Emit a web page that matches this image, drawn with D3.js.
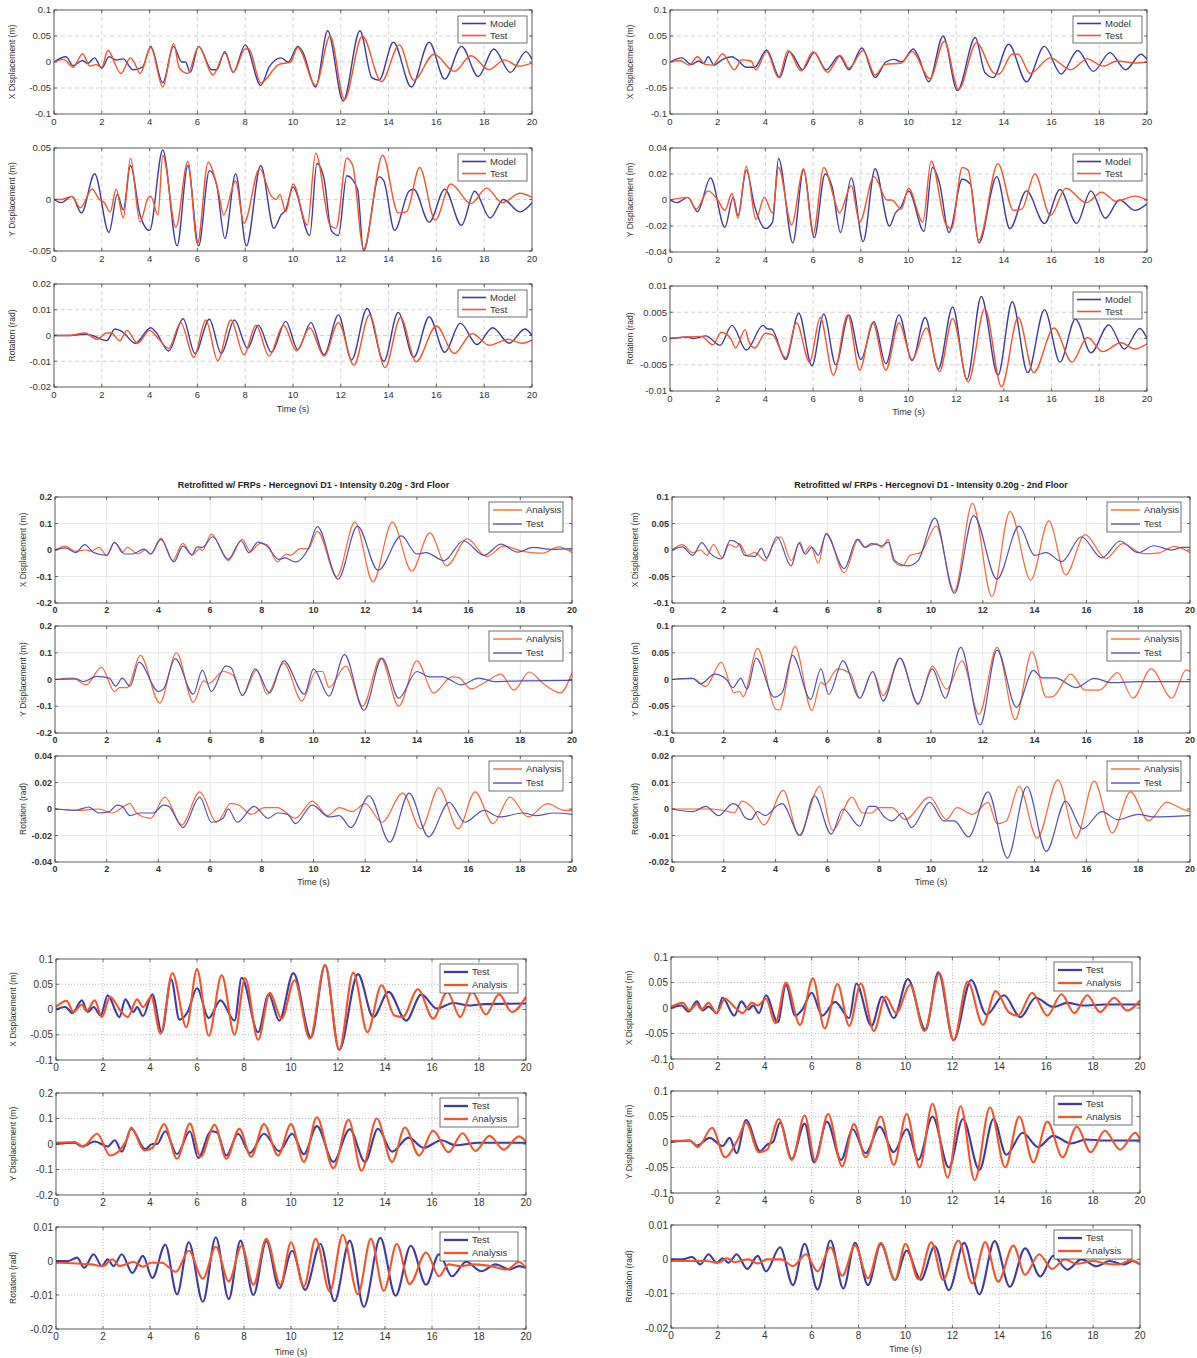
<!DOCTYPE html>
<html>
<head>
<meta charset="utf-8">
<script src="https://cdn.jsdelivr.net/npm/d3@7/dist/d3.min.js"></script>
<style>
  body { margin: 0; background: #fff; }
  svg { font-family: "Liberation Sans", Arial, sans-serif; }
</style>
</head>
<body>
<div id="chart"></div>
<script>
// ---------- data (time in s, value) ----------
const timeTicks = [0, 2, 4, 6, 8, 10, 12, 14, 16, 18, 20];

// top-left panel
const aXModel = [[0,0],[0.5,0.01],[0.8,-0.007],[1.2,0.003],[1.4,-0.003],[1.7,0.008],[2.0,-0.012],[2.3,0.01],[2.6,0.004],[2.9,0.006],[3.3,-0.015],[3.7,-0.01],[4.05,0.03],[4.55,-0.04],[5.0,0.03],[5.35,0],[5.5,0],[5.7,-0.02],[6.05,0.03],[6.6,-0.015],[6.8,-0.015],[7.15,0.02],[7.5,-0.02],[8.0,0.033],[8.65,-0.045],[9.0,-0.01],[9.5,0.008],[9.8,0],[10.2,0.03],[10.4,0.02],[10.95,-0.048],[11.45,0.06],[12.1,-0.075],[12.8,0.06],[13.3,-0.03],[13.6,-0.035],[14.2,0.038],[14.95,-0.048],[15.7,0.038],[16.35,-0.033],[17.05,0.03],[17.75,-0.028],[18.4,0.025],[19.1,-0.02],[19.75,0.02],[20,0.005]];
const aXTest = [[0,0],[0.4,0.005],[0.8,-0.01],[1.2,0.016],[1.5,-0.008],[1.75,-0.005],[2.0,-0.01],[2.25,0.022],[2.8,-0.022],[3.2,0.008],[3.35,0],[3.6,-0.022],[4.05,0.028],[4.55,-0.048],[5.0,0.035],[5.25,-0.012],[5.6,-0.022],[6.05,0.03],[6.65,-0.025],[7.15,0.017],[7.5,-0.02],[8.0,0.025],[8.15,0.025],[8.65,-0.04],[9.4,-0.005],[9.9,0],[10.2,0.028],[10.95,-0.045],[11.55,0.05],[12.15,-0.072],[12.9,0.05],[13.7,-0.038],[14.45,0.033],[15.05,-0.035],[15.9,0.015],[16.75,-0.018],[17.45,0.012],[18.2,-0.015],[18.85,0.004],[19.45,-0.008],[20,-0.002]];
const aYModel = [[0,0],[0.3,-0.003],[0.75,0.003],[1.15,-0.013],[1.7,0.025],[2.3,-0.032],[2.65,0.005],[2.9,-0.01],[3.2,0.033],[3.6,-0.015],[4.0,-0.03],[4.55,0.048],[5.15,-0.045],[5.6,0.033],[6.05,-0.045],[6.5,0.028],[6.8,0.015],[7.15,-0.038],[7.6,0.025],[8.05,-0.045],[8.65,0.033],[9.2,-0.028],[9.5,-0.015],[9.7,-0.01],[10.0,0.012],[10.7,-0.035],[11.0,0.035],[11.3,0.02],[11.6,-0.03],[11.9,-0.035],[12.25,0.023],[12.7,0.01],[12.95,-0.05],[13.6,0.022],[13.8,0.018],[14.25,-0.03],[14.85,0.008],[15.05,0.01],[15.7,-0.022],[16.35,0.01],[17.05,-0.025],[17.6,0.008],[18.25,-0.018],[18.8,0],[19.5,-0.012],[20,-0.003]];
const aYTest = [[0,0],[0.3,0],[0.75,0.003],[1.1,-0.008],[1.6,0.01],[1.9,0],[2.1,-0.003],[2.35,-0.012],[2.6,0.01],[2.9,-0.018],[3.2,0.04],[3.6,-0.022],[3.95,0.002],[4.05,0.003],[4.35,-0.015],[4.55,0.043],[5.1,-0.027],[5.6,0.037],[6.0,-0.043],[6.45,0.036],[6.9,0.005],[7.1,-0.015],[7.6,0.018],[7.95,-0.023],[8.6,0.03],[9.1,0.003],[9.3,0],[9.45,0.005],[9.7,-0.012],[10.0,0.015],[10.6,-0.025],[10.95,0.045],[11.55,-0.025],[11.8,-0.028],[12.25,0.04],[12.5,0.033],[12.95,-0.048],[13.75,0.043],[14.4,-0.013],[14.75,-0.012],[15.3,0.031],[15.95,-0.02],[16.6,0.015],[17.45,-0.004],[18.1,0.011],[18.75,-0.003],[19.5,0.006],[20,0.002]];
const aRModel = [[0,0],[0.7,0],[1.3,0.0005],[1.6,0],[2.2,-0.002],[2.55,0.0025],[2.85,0.0015],[3.4,-0.003],[4.05,0.003],[4.25,0.0015],[4.8,-0.006],[5.4,0.0065],[5.9,-0.007],[6.5,0.0063],[7.0,-0.007],[7.55,0.006],[8.1,-0.005],[8.55,0.004],[9.1,-0.0065],[9.7,0.0055],[10.2,-0.0055],[10.75,0.005],[11.3,-0.0075],[11.9,0.008],[12.45,-0.0095],[13.1,0.0105],[13.8,-0.01],[14.4,0.009],[15.05,-0.0085],[15.7,0.0073],[16.35,-0.0065],[17.0,0.0048],[17.7,-0.0035],[18.35,0.003],[19.05,-0.003],[19.7,0.0025],[20,0]];
const aRTest = [[0,0],[0.6,0],[1.3,0.001],[1.8,-0.0015],[2.2,0.001],[2.4,0.001],[2.75,-0.002],[3.05,0.002],[3.5,-0.003],[4.0,0.002],[4.3,-0.0005],[4.8,-0.005],[5.3,0.005],[5.85,-0.0085],[6.35,0.006],[6.85,-0.0098],[7.4,0.006],[7.95,-0.0075],[8.45,0.004],[9.0,-0.008],[9.6,0.004],[10.15,-0.006],[10.7,0.003],[11.3,-0.008],[11.9,0.005],[12.55,-0.0115],[13.2,0.008],[13.85,-0.0125],[14.5,0.007],[15.15,-0.0102],[16.0,0.0037],[16.75,-0.007],[17.5,0.0008],[18.2,-0.0038],[19.0,-0.0015],[19.6,-0.003],[20,-0.0018]];

// top-right panel
const bXModel = [[0,0],[0.5,0.008],[0.9,-0.005],[1.2,0.002],[1.4,-0.003],[1.6,0.01],[1.85,-0.006],[2.2,0.005],[2.6,0.01],[2.8,0.005],[3.2,-0.01],[3.55,-0.01],[4.05,0.023],[4.6,-0.03],[5.0,0.02],[5.2,0.01],[5.55,-0.015],[6.05,0.018],[6.55,-0.015],[7.1,0.012],[7.5,-0.015],[8.05,0.027],[8.6,-0.03],[9.05,0],[9.4,0.005],[9.7,0],[10.2,0.025],[10.4,0.012],[10.85,-0.038],[11.45,0.05],[12.05,-0.055],[12.8,0.047],[13.2,-0.02],[13.55,-0.03],[14.2,0.034],[14.95,-0.038],[15.7,0.03],[16.4,-0.023],[17.1,0.022],[17.75,-0.018],[18.45,0.018],[19.1,-0.015],[19.75,0.015],[20,0.005]];
const bXTest = [[0,0],[0.4,0.003],[0.8,-0.006],[1.15,0.01],[1.45,-0.004],[1.8,-0.006],[2.2,0.016],[2.7,-0.015],[3.0,0.004],[3.4,0.002],[3.6,-0.015],[4.05,0.02],[4.55,-0.03],[4.95,0.022],[5.5,-0.017],[6.0,0.02],[6.6,-0.02],[7.15,0.012],[7.5,-0.012],[8.1,0.022],[8.6,-0.025],[9.0,-0.005],[9.7,-0.002],[10.15,0.02],[10.9,-0.032],[11.5,0.04],[12.1,-0.053],[12.85,0.037],[13.6,-0.022],[13.8,-0.023],[14.35,0.015],[14.6,0.015],[15.1,-0.022],[15.95,0.008],[16.8,-0.015],[17.5,0.006],[18.15,-0.008],[18.75,0.002],[19.5,-0.002],[20,0]];
const bYModel = [[0,0],[0.3,-0.002],[0.75,0.002],[1.15,-0.009],[1.7,0.017],[2.3,-0.021],[2.65,0.002],[2.85,-0.012],[3.2,0.023],[3.55,-0.005],[4.0,-0.022],[4.3,-0.017],[4.55,0.032],[5.15,-0.033],[5.6,0.023],[6.05,-0.029],[6.5,0.02],[6.8,0.01],[7.15,-0.025],[7.6,0.017],[8.1,-0.032],[8.6,0.024],[9.2,-0.02],[9.45,-0.01],[9.7,-0.005],[10.0,0.007],[10.65,-0.024],[11.0,0.025],[11.3,0.013],[11.7,-0.025],[12.25,0.016],[12.6,0.012],[12.95,-0.033],[13.7,0.018],[14.25,-0.022],[14.95,0.007],[15.7,-0.018],[16.35,0.008],[17.05,-0.018],[17.65,0.007],[18.25,-0.014],[18.85,0],[19.5,-0.008],[20,-0.003]];
const bYTest = [[0,0],[0.75,0.002],[1.1,-0.007],[1.6,0.007],[2.0,0],[2.3,-0.008],[2.6,0.005],[2.85,-0.014],[3.2,0.026],[3.6,-0.015],[3.95,0.002],[4.3,-0.01],[4.55,0.025],[5.1,-0.019],[5.6,0.024],[6.0,-0.026],[6.45,0.025],[6.9,0],[7.1,-0.01],[7.6,0.011],[7.95,-0.017],[8.55,0.018],[9.1,0],[9.3,0],[9.7,-0.007],[10.0,0.009],[10.6,-0.017],[10.95,0.03],[11.55,-0.018],[11.8,-0.022],[12.25,0.025],[12.5,0.023],[12.95,-0.031],[13.75,0.028],[14.4,-0.008],[14.75,-0.007],[15.3,0.02],[15.95,-0.012],[16.6,0.009],[17.45,-0.002],[18.1,0.006],[18.7,-0.001],[19.5,0.003],[20,0]];
const bRModel = [[0,0],[0.7,0.0003],[1.0,0],[1.5,0.0005],[2.1,-0.0013],[2.6,0.0025],[3.2,-0.0022],[3.9,0.0025],[4.1,0.0018],[4.25,0.0018],[4.85,-0.004],[5.4,0.0048],[5.95,-0.0052],[6.45,0.0047],[6.95,-0.005],[7.5,0.0045],[8.0,-0.004],[8.55,0.0032],[9.05,-0.0048],[9.6,0.0045],[10.15,-0.0042],[10.7,0.004],[11.25,-0.0058],[11.85,0.006],[12.45,-0.0078],[13.05,0.008],[13.75,-0.007],[14.35,0.007],[15.0,-0.0065],[15.7,0.0055],[16.35,-0.0045],[17.0,0.0037],[17.65,-0.0027],[18.4,0.0026],[19.05,-0.002],[19.7,0.0019],[20,0]];
const bRTest = [[0,0],[1.3,0.0004],[1.8,-0.0012],[2.15,0.0012],[2.55,0],[2.75,-0.0018],[3.15,0.0017],[3.3,-0.0005],[3.55,-0.0018],[4.0,0.001],[4.3,0.0007],[4.85,-0.0037],[5.3,0.003],[5.85,-0.0045],[6.3,0.004],[6.85,-0.007],[7.45,0.0045],[7.95,-0.006],[8.5,0.003],[9.05,-0.006],[9.6,0.003],[10.15,-0.004],[10.75,0.002],[11.3,-0.0063],[11.85,0.0038],[12.5,-0.0083],[13.2,0.0057],[13.9,-0.0092],[14.6,0.004],[15.25,-0.0065],[16.1,0.002],[16.85,-0.0045],[17.5,0.0002],[18.15,-0.0025],[18.9,-0.0008],[19.5,-0.002],[20,-0.001]];

// middle-left panel (3rd floor)
const cXAnalysis = [[0,0],[0.4,0.015],[0.8,-0.005],[1.2,0],[1.4,-0.005],[1.7,0.01],[2.0,-0.02],[2.3,0.03],[2.6,-0.01],[2.8,0.01],[3.2,-0.015],[3.5,0],[3.7,-0.015],[4.1,0.045],[4.55,-0.04],[4.95,0.025],[5.3,-0.02],[5.6,0.005],[5.7,-0.002],[6.05,0.06],[6.7,-0.04],[7.25,0.04],[7.55,-0.005],[7.95,0.025],[8.2,0.02],[8.6,-0.045],[8.95,-0.015],[9.1,-0.02],[9.5,0.005],[9.8,0.005],[10.15,0.07],[10.9,-0.1],[11.6,0.105],[12.3,-0.12],[13.05,0.105],[13.8,-0.08],[14.5,0.065],[15.15,-0.06],[15.95,0.042],[16.7,-0.025],[17.35,0.015],[18.1,-0.005],[18.85,-0.012],[19.5,0.012],[20,-0.01]];
const cXTest = [[0,0],[0.4,0.008],[0.8,-0.01],[1.15,0.02],[1.5,-0.01],[2.0,-0.02],[2.3,0.028],[2.7,-0.015],[3.0,-0.015],[3.45,0.003],[3.7,-0.015],[4.1,0.04],[4.6,-0.045],[4.95,0.015],[5.3,-0.018],[5.5,0.012],[5.7,0.01],[6.1,0.05],[6.7,-0.035],[7.2,0.035],[7.5,-0.01],[7.85,0.03],[8.2,0.015],[8.65,-0.035],[8.9,-0.03],[9.3,-0.045],[9.8,0.005],[10.15,0.088],[10.95,-0.11],[11.7,0.09],[12.5,-0.077],[13.4,0.053],[14.0,-0.015],[14.35,-0.01],[15.05,-0.04],[15.8,0.035],[16.6,-0.02],[17.25,0.022],[17.9,-0.008],[18.5,0.01],[19.2,0.002],[20,0.005]];
const cYAnalysis = [[0,0],[0.7,0.005],[1.2,-0.02],[1.8,0.045],[2.3,-0.045],[2.5,-0.03],[2.8,-0.03],[3.3,0.09],[4.05,-0.088],[4.7,0.1],[5.35,-0.085],[5.75,-0.005],[5.95,-0.015],[6.5,0.03],[6.9,0.015],[7.25,-0.06],[7.8,0.035],[8.2,-0.055],[8.85,0.06],[9.55,-0.08],[10.1,0.03],[10.35,0.03],[10.6,-0.03],[11.25,0.05],[11.9,-0.1],[12.6,0.08],[13.3,-0.1],[14.0,0.07],[14.65,-0.05],[15.35,0.01],[15.6,0.008],[16.1,-0.035],[16.65,-0.01],[17.25,0.02],[17.75,-0.04],[18.35,0.028],[18.85,-0.012],[19.55,-0.05],[20,0.025]];
const cYTest = [[0,0],[0.8,0.002],[1.1,-0.008],[1.6,0.012],[2.1,0.005],[2.35,-0.025],[2.6,0.005],[2.9,-0.025],[3.25,0.065],[4.0,-0.045],[4.2,-0.035],[4.65,0.078],[5.35,-0.055],[5.7,0.035],[6.05,-0.045],[6.6,0.05],[6.8,0.045],[7.25,-0.06],[7.75,0.04],[8.3,-0.05],[8.85,0.07],[9.65,-0.055],[10.0,0.04],[10.6,-0.062],[11.2,0.093],[11.95,-0.115],[12.65,0.08],[13.3,-0.07],[14.0,0.03],[14.5,0.01],[15.0,0.01],[15.7,-0.02],[16.4,0.005],[17.0,-0.008],[18.0,-0.005],[20,-0.003]];
const cRAnalysis = [[0,0],[1.0,-0.001],[1.7,0],[2.2,-0.003],[2.9,0.004],[3.15,-0.003],[3.7,-0.007],[4.25,0.009],[4.9,-0.012],[5.6,0.013],[6.25,-0.01],[6.8,0.004],[7.1,0.003],[7.6,-0.004],[8.1,0.001],[8.6,0.001],[9.3,-0.007],[9.95,0.006],[10.55,-0.005],[11.0,0.001],[11.5,-0.002],[12.0,0.004],[12.65,-0.01],[13.45,0.012],[14.15,-0.015],[14.85,0.016],[15.6,-0.015],[16.25,0.013],[16.95,-0.011],[17.6,0.009],[18.3,-0.006],[19.05,0.004],[19.7,-0.001],[20,-0.001]];
const cRTest = [[0,0],[0.8,-0.001],[1.3,0.0015],[1.7,-0.003],[2.1,-0.002],[2.4,0.003],[2.6,0.002],[2.9,-0.005],[3.3,-0.003],[3.8,-0.003],[4.2,0.003],[4.4,0.002],[4.95,-0.014],[5.6,0.009],[6.05,-0.01],[6.5,-0.007],[6.7,0],[7.05,-0.01],[7.7,0.002],[8.25,-0.007],[8.6,-0.003],[9.0,-0.004],[9.3,-0.011],[9.95,0.003],[10.6,-0.006],[11.0,-0.005],[11.45,-0.014],[12.15,0.01],[12.95,-0.025],[13.7,0.012],[14.45,-0.021],[15.25,0.005],[15.85,-0.01],[16.6,-0.001],[17.2,-0.006],[18.1,-0.003],[18.6,-0.005],[19.3,-0.003],[20,-0.004]];

// middle-right panel (2nd floor)
const dXAnalysis = [[0,0],[0.4,0.01],[0.8,-0.005],[1.1,0],[1.35,-0.01],[1.6,0.01],[1.95,-0.015],[2.2,0.01],[2.5,0.005],[2.6,0.012],[2.9,-0.01],[3.2,-0.005],[3.6,-0.02],[3.9,0.01],[4.2,0.025],[4.6,-0.02],[4.95,0.015],[5.1,-0.005],[5.35,0.008],[5.65,-0.025],[5.95,0.032],[6.65,-0.043],[7.2,0.02],[7.45,0.005],[7.9,0.012],[8.1,0.005],[8.35,0.02],[8.55,-0.02],[8.9,-0.03],[9.2,-0.01],[9.6,-0.005],[10.2,0.045],[10.9,-0.078],[11.6,0.088],[12.35,-0.088],[13.05,0.073],[13.85,-0.057],[14.55,0.055],[15.2,-0.047],[15.95,0.029],[16.75,-0.016],[17.4,0.012],[18.2,-0.007],[18.75,-0.006],[19.4,0.007],[20,-0.005]];
const dXTest = [[0,0],[0.4,0.006],[0.8,-0.01],[1.15,0.014],[1.45,-0.005],[1.9,-0.017],[2.25,0.018],[2.6,0.01],[2.8,-0.01],[3.2,-0.012],[3.45,0.003],[3.65,-0.015],[4.05,0.025],[4.6,-0.03],[4.9,0.013],[5.15,-0.008],[5.4,0.005],[5.65,-0.01],[5.95,0.03],[6.65,-0.035],[7.15,0.02],[7.45,0.005],[7.7,0.012],[8.1,0.008],[8.35,0.015],[8.6,-0.02],[9.1,-0.03],[9.5,-0.02],[10.15,0.06],[10.9,-0.082],[11.65,0.065],[12.55,-0.055],[13.4,0.045],[14.0,-0.01],[14.45,-0.005],[15.05,-0.022],[15.8,0.025],[16.6,-0.015],[17.3,0.017],[18.0,-0.005],[18.6,0.008],[19.3,0],[19.7,0.005],[20,0.005]];
const dYAnalysis = [[0,0],[0.8,0.002],[1.3,-0.013],[1.9,0.032],[2.4,-0.025],[2.6,-0.022],[2.75,-0.032],[3.3,0.058],[4.0,-0.055],[4.15,-0.057],[4.75,0.062],[5.4,-0.058],[5.75,-0.005],[5.9,-0.01],[6.4,0.02],[6.9,0.01],[7.25,-0.035],[7.75,0.015],[8.15,-0.03],[8.8,0.04],[9.5,-0.047],[10.05,0.025],[10.6,-0.018],[11.2,0.035],[11.85,-0.065],[12.55,0.06],[13.25,-0.075],[13.9,0.052],[14.45,-0.033],[14.7,-0.032],[15.4,0.01],[15.95,-0.02],[16.5,-0.02],[17.2,0.013],[17.8,-0.035],[18.5,0.02],[19.3,-0.035],[19.85,0.018],[20,0.015]];
const dYTest = [[0,0],[0.8,0.002],[1.1,-0.008],[1.65,0.01],[2.1,0],[2.35,-0.015],[2.65,0.002],[2.9,-0.018],[3.25,0.04],[3.95,-0.033],[4.25,-0.025],[4.65,0.045],[5.35,-0.037],[5.75,0.02],[6.05,-0.028],[6.6,0.035],[7.25,-0.035],[7.75,0.015],[8.15,-0.04],[8.8,0.04],[9.5,-0.045],[10.05,0.02],[10.55,-0.035],[11.15,0.06],[11.9,-0.085],[12.55,0.055],[13.3,-0.052],[13.95,0.017],[14.3,0.003],[14.8,0.003],[15.6,-0.015],[16.3,0.002],[17.0,-0.006],[18.0,-0.004],[20,-0.004]];
const dRAnalysis = [[0,0],[1.5,0],[2.2,-0.001],[2.4,-0.0015],[2.7,0.003],[3.1,0.0005],[3.55,-0.006],[4.3,0.007],[4.9,-0.01],[5.7,0.0085],[6.2,-0.008],[6.95,0.0045],[7.35,-0.0015],[7.7,-0.0015],[8.0,0.0005],[8.5,0.0005],[9.0,-0.004],[9.95,0.0045],[10.6,-0.004],[11.0,0.0005],[11.6,-0.002],[12.2,0.0025],[12.55,-0.0055],[12.9,-0.0045],[13.4,0.0085],[14.1,-0.011],[14.9,0.011],[15.6,-0.011],[16.3,0.0105],[17.0,-0.009],[17.7,0.0065],[18.4,-0.0045],[19.1,0.0025],[19.7,0],[20,-0.001]];
const dRTest = [[0,0],[0.8,-0.001],[1.3,0.001],[1.8,-0.0025],[2.35,0.002],[2.6,0.0005],[2.8,-0.003],[3.05,-0.004],[3.3,-0.001],[3.6,-0.0025],[4.1,0.0015],[4.25,0.002],[4.95,-0.01],[5.5,0.005],[6.15,-0.0095],[6.6,0],[7.25,-0.0065],[7.6,0.001],[7.85,0.001],[8.2,-0.003],[8.5,-0.0045],[8.9,-0.0015],[9.25,-0.007],[9.95,0.0025],[10.5,-0.0045],[10.9,-0.0045],[11.45,-0.0105],[12.2,0.0065],[12.95,-0.0185],[13.7,0.0085],[14.45,-0.016],[15.2,0.003],[15.85,-0.0075],[16.6,-0.001],[17.2,-0.004],[18.0,-0.002],[18.6,-0.003],[20,-0.0025]];

// bottom-left panel
const eXTest = [[0,0],[0.4,0.005],[0.7,-0.007],[1.1,0.018],[1.35,-0.005],[1.6,0.005],[1.9,-0.012],[2.2,0.028],[2.7,-0.015],[2.95,0.02],[3.3,-0.005],[3.45,0.005],[3.7,-0.013],[4.1,0.03],[4.5,-0.045],[4.9,0.06],[5.25,-0.02],[5.6,-0.005],[6.0,0.042],[6.5,-0.017],[7.0,0.018],[7.6,-0.022],[7.9,0.063],[8.6,-0.045],[9.05,0.03],[9.5,-0.022],[10.1,0.072],[10.85,-0.055],[11.45,0.088],[12.05,-0.08],[12.85,0.07],[13.5,-0.015],[14.15,0.035],[14.9,-0.022],[15.55,0.03],[16.2,0.002],[16.9,0.013],[17.6,0.008],[18.0,0.01],[20,0.012]];
const eXAnalysis = [[0,0.005],[0.45,0.017],[0.75,-0.005],[1.1,0.01],[1.3,-0.003],[1.65,0.018],[1.95,-0.015],[2.3,0.025],[2.75,-0.003],[3.05,-0.015],[3.45,0.02],[3.7,0.005],[4.05,0.025],[4.45,-0.048],[4.95,0.072],[5.55,-0.035],[6.0,0.08],[6.5,-0.052],[7.05,0.068],[7.6,-0.05],[8.05,0.062],[8.6,-0.06],[9.1,0.033],[9.6,-0.018],[10.15,0.058],[10.8,-0.058],[11.45,0.088],[12.05,-0.08],[12.65,0.073],[13.25,-0.045],[13.85,0.048],[14.4,-0.012],[14.75,-0.015],[15.4,0.04],[16.05,-0.018],[16.65,0.035],[17.2,-0.015],[17.7,0.035],[18.3,-0.01],[18.85,0.03],[19.4,-0.005],[20,0.025]];
const eYTest = [[0,0],[0.8,0.005],[1.1,-0.01],[1.65,0.01],[2.2,-0.01],[2.5,0.015],[2.8,-0.03],[3.2,0.06],[3.8,-0.02],[4.1,0],[4.3,0],[4.65,0.05],[5.15,-0.04],[5.7,0.05],[6.05,-0.055],[6.6,0.05],[6.85,0.045],[7.25,-0.045],[7.75,0.04],[8.25,-0.035],[8.85,0.04],[9.5,-0.028],[10.05,0.04],[10.55,-0.04],[11.1,0.07],[11.8,-0.07],[12.5,0.058],[13.15,-0.07],[13.7,0.06],[14.3,-0.03],[15.0,0.025],[15.65,-0.015],[16.4,0.015],[17.0,-0.005],[18.0,0.005],[20,0.005]];
const eYAnalysis = [[0,0.005],[0.8,0.008],[1.15,-0.01],[1.75,0.04],[2.3,-0.045],[3.0,0.015],[3.2,0.065],[3.75,-0.025],[4.1,-0.015],[4.6,0.078],[5.15,-0.058],[5.7,0.08],[6.15,-0.05],[6.75,0.075],[7.25,-0.058],[7.8,0.06],[8.3,-0.05],[8.85,0.078],[9.45,-0.045],[10.0,0.078],[10.55,-0.07],[11.1,0.105],[11.8,-0.095],[12.45,0.095],[13.0,-0.105],[13.65,0.1],[14.3,-0.07],[14.85,0.065],[15.45,-0.045],[16.05,0.052],[16.7,-0.032],[17.3,0.042],[17.85,-0.027],[18.45,0.032],[19.05,-0.022],[19.7,0.03],[20,0.01]];
const eRTest = [[0,0],[0.5,0],[0.9,0.001],[1.2,-0.002],[1.6,0.002],[1.95,-0.0015],[2.2,0.0005],[2.45,-0.0015],[2.8,0.002],[3.25,-0.0035],[3.7,0.0015],[4.1,-0.005],[4.65,0.0048],[5.15,-0.0098],[5.65,0.0055],[6.25,-0.012],[6.8,0.007],[7.35,-0.0112],[7.85,0.006],[8.4,-0.01],[8.95,0.0058],[9.5,-0.008],[10.05,0.003],[10.6,-0.0085],[11.25,0.005],[11.85,-0.0118],[12.5,0.006],[13.1,-0.0135],[13.8,0.0068],[14.45,-0.0102],[15.1,0.0045],[15.75,-0.007],[16.3,0.002],[16.85,-0.0045],[17.45,-0.0002],[18.1,-0.003],[18.7,-0.001],[19.3,-0.0025],[19.7,-0.0015],[20,-0.002]];
const eRAnalysis = [[0,-0.0005],[1.5,-0.001],[2.0,-0.0015],[2.4,0.0005],[2.7,-0.0015],[3.3,-0.0003],[3.7,-0.0017],[4.05,-0.0005],[4.5,-0.0005],[5.1,-0.0032],[5.65,0.003],[6.25,-0.0052],[6.8,0.0042],[7.35,-0.006],[7.9,0.0045],[8.4,-0.007],[8.95,0.0065],[9.55,-0.007],[10.0,0.0055],[10.55,-0.0075],[11.05,0.0065],[11.65,-0.009],[12.2,0.0077],[12.85,-0.0098],[13.4,0.0065],[13.95,-0.0088],[14.5,0.005],[15.05,-0.0068],[15.75,0.0025],[16.3,-0.0045],[16.7,-0.001],[17.2,-0.0015],[17.8,-0.001],[18.5,-0.0015],[19.2,-0.0025],[19.7,-0.0003],[20,-0.002]];

// bottom-right panel
const fXTest = [[0,0],[0.45,0.005],[0.75,-0.007],[1.1,0.013],[1.35,-0.005],[1.6,0.003],[1.95,-0.01],[2.2,0.02],[2.7,-0.015],[3.0,0.013],[3.3,-0.003],[3.5,0.005],[3.75,-0.01],[4.05,0.025],[4.55,-0.028],[4.9,0.045],[5.3,-0.015],[5.6,-0.003],[6.0,0.03],[6.45,-0.015],[7.0,0.012],[7.6,-0.02],[7.9,0.048],[8.55,-0.035],[9.0,0.022],[9.5,-0.02],[10.1,0.057],[10.85,-0.043],[11.4,0.07],[12.05,-0.063],[12.8,0.055],[13.45,-0.013],[14.2,0.025],[14.9,-0.018],[15.55,0.02],[16.3,0.002],[16.9,0.01],[17.6,0.005],[18.5,0.007],[20,0.007]];
const fXAnalysis = [[0,0.002],[0.5,0.01],[0.8,-0.005],[1.1,0.008],[1.3,-0.003],[1.6,0.01],[1.95,-0.01],[2.3,0.018],[2.75,0],[3.05,-0.01],[3.45,0.01],[3.7,0.005],[4.05,0.018],[4.45,-0.03],[4.9,0.05],[5.5,-0.033],[6.05,0.058],[6.55,-0.04],[7.1,0.047],[7.6,-0.035],[8.1,0.048],[8.65,-0.045],[9.15,0.022],[9.6,-0.01],[10.2,0.045],[10.8,-0.045],[11.45,0.068],[12.05,-0.063],[12.65,0.052],[13.3,-0.033],[13.85,0.033],[14.4,-0.008],[14.8,-0.015],[15.4,0.03],[16.05,-0.015],[16.65,0.027],[17.2,-0.01],[17.75,0.025],[18.3,-0.008],[18.9,0.02],[19.45,-0.005],[20,0.015]];
const fYTest = [[0,0],[0.8,0.003],[1.1,-0.007],[1.65,0.008],[2.2,-0.008],[2.5,0.008],[2.8,-0.022],[3.2,0.043],[3.8,-0.018],[4.1,-0.005],[4.35,0],[4.65,0.038],[5.15,-0.033],[5.7,0.036],[6.1,-0.04],[6.65,0.04],[7.25,-0.035],[7.75,0.025],[8.3,-0.022],[8.9,0.03],[9.5,-0.02],[10.05,0.025],[10.55,-0.035],[11.15,0.05],[11.85,-0.05],[12.45,0.045],[13.15,-0.055],[13.75,0.045],[14.3,-0.025],[15.0,0.018],[15.65,-0.01],[16.3,0.012],[17.05,-0.003],[17.7,0.005],[18.5,0.003],[20,0.003]];
const fYAnalysis = [[0,0.002],[0.8,0.003],[1.15,-0.01],[1.75,0.028],[2.3,-0.03],[2.85,0.005],[3.2,0.038],[3.75,-0.02],[4.1,-0.015],[4.6,0.045],[5.15,-0.035],[5.7,0.052],[6.15,-0.037],[6.7,0.055],[7.3,-0.048],[7.8,0.035],[8.3,-0.03],[8.95,0.05],[9.5,-0.045],[10.05,0.055],[10.6,-0.05],[11.15,0.075],[11.8,-0.07],[12.35,0.07],[12.95,-0.075],[13.6,0.068],[14.25,-0.05],[14.85,0.05],[15.45,-0.04],[16.05,0.04],[16.7,-0.03],[17.3,0.03],[17.9,-0.02],[18.5,0.022],[19.15,-0.015],[19.8,0.018],[20,0.005]];
const fRTest = [[0,0],[0.5,0],[0.9,0.0007],[1.25,-0.0015],[1.6,0.0015],[1.95,-0.001],[2.2,0.0003],[2.45,-0.001],[2.8,0.0015],[3.25,-0.0028],[3.7,0.001],[4.05,-0.0035],[4.65,0.0035],[5.2,-0.0075],[5.7,0.0045],[6.25,-0.0088],[6.8,0.0055],[7.35,-0.0085],[7.85,0.0048],[8.4,-0.0075],[8.95,0.0045],[9.55,-0.006],[10.05,0.0025],[10.65,-0.006],[11.25,0.0038],[11.85,-0.009],[12.5,0.0048],[13.15,-0.0102],[13.8,0.0053],[14.45,-0.008],[15.1,0.0032],[15.75,-0.005],[16.3,0.001],[16.9,-0.003],[17.5,0],[18.15,-0.002],[18.7,-0.0005],[19.3,-0.0015],[19.7,-0.0005],[20,-0.0015]];
const fRAnalysis = [[0,-0.0005],[1.5,-0.0005],[2.0,-0.001],[2.4,0.0003],[2.7,-0.0008],[3.3,0],[3.7,-0.0012],[4.1,0],[4.7,0],[5.2,-0.002],[5.75,0.0015],[6.25,-0.0035],[6.8,0.0035],[7.3,-0.0048],[7.85,0.004],[8.4,-0.0055],[8.95,0.0048],[9.55,-0.006],[10.0,0.0045],[10.55,-0.0058],[11.1,0.005],[11.6,-0.006],[12.25,0.0055],[12.85,-0.007],[13.4,0.005],[13.95,-0.0065],[14.6,0.004],[15.1,-0.0045],[15.7,0.0015],[16.25,-0.0028],[16.8,0],[17.3,-0.0013],[18.0,-0.0005],[18.5,-0.0012],[19.1,-0.0015],[19.6,-0.0003],[20,-0.0015]];

// axis ranges and tick labels
const xDispTicks01 = [-0.1, -0.05, 0, 0.05, 0.1];
const dispTicks005 = [-0.05, 0, 0.05];
const dispTicks004 = [-0.04, -0.02, 0, 0.02, 0.04];
const dispTicks02 = [-0.2, -0.1, 0, 0.1, 0.2];
const rotTicks002 = [-0.02, -0.01, 0, 0.01, 0.02];
const rotTicks001 = [-0.01, -0.005, 0, 0.005, 0.01];
const rotTicks004 = [-0.04, -0.02, 0, 0.02, 0.04];
const rotTicksAsym = [-0.02, -0.01, 0, 0.01];

// ---------- styles ----------
const BLUE_A = "#3e3c9e", ORANGE_A = "#f2552b";
const BLUE_C = "#5652b0", ORANGE_C = "#f36b3c";
const styleA = { grid: "#c8c8c8", dash: "4,3", gridW: 0.8, lw: 1.4, tick: 9.5, weight: "normal",
                 leg: { w: 69, h: 27, dx: 5, dy: 6, line: 24, row: 12 } };
const styleC = { grid: "#e2e2e2", dash: null, gridW: 0.8, lw: 1.2, tick: 9, weight: "bold",
                 leg: { w: 74, h: 30, dx: 9, dy: 5, line: 29, row: 14 } };
const styleE = { grid: "#aaaaaa", dash: "1,2", gridW: 0.8, lw: 2.1, tick: 10, weight: "normal",
                 leg: { w: 78, h: 29, dx: 8, dy: 5, line: 24, row: 13 } };

const seriesAB = (m, t) => [{ name: "Model", color: BLUE_A, data: m }, { name: "Test", color: ORANGE_A, data: t }];
const seriesCD = (a, t) => [{ name: "Analysis", color: ORANGE_C, data: a }, { name: "Test", color: BLUE_C, data: t }];
const seriesEF = (t, a) => [{ name: "Test", color: BLUE_A, data: t }, { name: "Analysis", color: ORANGE_A, data: a }];

const panels = [
  { x0: 54, x1: 532, labelX: 15, style: styleA, timeY: 412,
    subs: [
      { top: 10, bottom: 114, ticks: xDispTicks01, label: "X Displacement (m)", series: seriesAB(aXModel, aXTest) },
      { top: 148, bottom: 251, ticks: dispTicks005, label: "Y Displacement (m)", series: seriesAB(aYModel, aYTest) },
      { top: 284, bottom: 387, ticks: rotTicks002, label: "Rotation (rad)", series: seriesAB(aRModel, aRTest) }
    ] },
  { x0: 670, x1: 1147, labelX: 633, style: styleA, timeY: 415,
    subs: [
      { top: 10, bottom: 114, ticks: xDispTicks01, label: "X Displacement (m)", series: seriesAB(bXModel, bXTest) },
      { top: 148, bottom: 252, ticks: dispTicks004, label: "Y Displacement (m)", series: seriesAB(bYModel, bYTest) },
      { top: 286, bottom: 391, ticks: rotTicks001, label: "Rotation (rad)", series: seriesAB(bRModel, bRTest) }
    ] },
  { x0: 55, x1: 572, labelX: 26, style: styleC, timeY: 885,
    title: "Retrofitted w/ FRPs - Hercegnovi D1 - Intensity 0.20g - 3rd Floor", titleY: 488,
    subs: [
      { top: 497, bottom: 603, ticks: dispTicks02, label: "X Displacement (m)", series: seriesCD(cXAnalysis, cXTest) },
      { top: 626, bottom: 733, ticks: dispTicks02, label: "Y Displacement (m)", series: seriesCD(cYAnalysis, cYTest) },
      { top: 756, bottom: 862, ticks: rotTicks004, label: "Rotation (rad)", series: seriesCD(cRAnalysis, cRTest) }
    ] },
  { x0: 672, x1: 1190, labelX: 638, style: styleC, timeY: 885,
    title: "Retrofitted w/ FRPs - Hercegnovi D1 - Intensity 0.20g - 2nd Floor", titleY: 488,
    subs: [
      { top: 497, bottom: 603, ticks: xDispTicks01, label: "X Displacement (m)", series: seriesCD(dXAnalysis, dXTest) },
      { top: 626, bottom: 733, ticks: xDispTicks01, label: "Y Displacement (m)", series: seriesCD(dYAnalysis, dYTest) },
      { top: 756, bottom: 862, ticks: rotTicks002, label: "Rotation (rad)", series: seriesCD(dRAnalysis, dRTest) }
    ] },
  { x0: 56, x1: 526, labelX: 16, style: styleE, timeY: 1355,
    subs: [
      { top: 959, bottom: 1060, ticks: xDispTicks01, label: "X Displacement (m)", series: seriesEF(eXTest, eXAnalysis) },
      { top: 1093, bottom: 1195, ticks: dispTicks02, label: "Y Displacement (m)", series: seriesEF(eYTest, eYAnalysis) },
      { top: 1227, bottom: 1329, ticks: rotTicksAsym, label: "Rotation (rad)", series: seriesEF(eRTest, eRAnalysis) }
    ] },
  { x0: 671, x1: 1140, labelX: 632, style: styleE, timeY: 1352,
    subs: [
      { top: 957, bottom: 1059, ticks: xDispTicks01, label: "X Displacement (m)", series: seriesEF(fXTest, fXAnalysis) },
      { top: 1091, bottom: 1193, ticks: xDispTicks01, label: "Y Displacement (m)", series: seriesEF(fYTest, fYAnalysis) },
      { top: 1225, bottom: 1328, ticks: rotTicksAsym, label: "Rotation (rad)", series: seriesEF(fRTest, fRAnalysis) }
    ] }
];

// ---------- drawing ----------
const svg = d3.select("#chart").append("svg")
  .attr("width", 1197).attr("height", 1358);

const fmt = v => {
  if (v === 0) return "0";
  let s = String(+v.toFixed(4));
  return s.replace("0.", ".").replace(/^\./, "0.").replace("-.", "-0.");
};

let clipId = 0;

panels.forEach(p => {
  const st = p.style;
  const x = d3.scaleLinear().domain([0, 20]).range([p.x0, p.x1]);

  if (p.title) {
    svg.append("text")
      .attr("x", (p.x0 + p.x1) / 2).attr("y", p.titleY)
      .attr("text-anchor", "middle")
      .attr("font-size", 9).attr("font-weight", "bold").attr("fill", "#222")
      .text(p.title);
  }

  p.subs.forEach((s, si) => {
    const dom = d3.extent(s.ticks);
    const y = d3.scaleLinear().domain(dom).range([s.bottom, s.top]);
    const g = svg.append("g");

    // grid
    g.selectAll(".vg").data(timeTicks.slice(1, -1)).enter().append("line")
      .attr("x1", d => x(d)).attr("x2", d => x(d))
      .attr("y1", s.top).attr("y2", s.bottom)
      .attr("stroke", st.grid).attr("stroke-width", st.gridW)
      .attr("stroke-dasharray", st.dash);
    g.selectAll(".hg").data(s.ticks.slice(1, -1)).enter().append("line")
      .attr("x1", p.x0).attr("x2", p.x1)
      .attr("y1", d => y(d)).attr("y2", d => y(d))
      .attr("stroke", st.grid).attr("stroke-width", st.gridW)
      .attr("stroke-dasharray", st.dash);

    // lines
    const cid = "clip" + (clipId++);
    svg.append("clipPath").attr("id", cid).append("rect")
      .attr("x", p.x0).attr("y", s.top).attr("width", p.x1 - p.x0).attr("height", s.bottom - s.top);
    const line = d3.line().x(d => x(d[0])).y(d => y(d[1])).curve(d3.curveMonotoneX);
    const lg = g.append("g").attr("clip-path", `url(#${cid})`);
    s.series.forEach(se => {
      lg.append("path").attr("d", line(se.data))
        .attr("fill", "none").attr("stroke", se.color)
        .attr("stroke-width", st.lw).attr("stroke-linejoin", "round");
    });

    // frame + inner ticks
    g.append("rect").attr("x", p.x0).attr("y", s.top)
      .attr("width", p.x1 - p.x0).attr("height", s.bottom - s.top)
      .attr("fill", "none").attr("stroke", "#333").attr("stroke-width", 0.8);
    timeTicks.forEach(t => {
      g.append("line").attr("x1", x(t)).attr("x2", x(t)).attr("y1", s.bottom).attr("y2", s.bottom - 3)
        .attr("stroke", "#333").attr("stroke-width", 0.7);
      g.append("line").attr("x1", x(t)).attr("x2", x(t)).attr("y1", s.top).attr("y2", s.top + 3)
        .attr("stroke", "#333").attr("stroke-width", 0.7);
    });
    s.ticks.forEach(t => {
      g.append("line").attr("x1", p.x0).attr("x2", p.x0 + 3).attr("y1", y(t)).attr("y2", y(t))
        .attr("stroke", "#333").attr("stroke-width", 0.7);
      g.append("line").attr("x1", p.x1).attr("x2", p.x1 - 3).attr("y1", y(t)).attr("y2", y(t))
        .attr("stroke", "#333").attr("stroke-width", 0.7);
    });

    // tick labels
    g.selectAll(".xl").data(timeTicks).enter().append("text")
      .attr("x", d => x(d)).attr("y", s.bottom + st.tick + 1)
      .attr("text-anchor", "middle").attr("font-size", st.tick)
      .attr("font-weight", st.weight).attr("fill", "#333")
      .text(d => d);
    g.selectAll(".yl").data(s.ticks).enter().append("text")
      .attr("x", p.x0 - 3).attr("y", d => y(d) + st.tick * 0.35)
      .attr("text-anchor", "end").attr("font-size", st.tick)
      .attr("font-weight", st.weight).attr("fill", "#333")
      .text(d => fmt(d));

    // y label
    g.append("text")
      .attr("transform", `translate(${p.labelX},${(s.top + s.bottom) / 2}) rotate(-90)`)
      .attr("text-anchor", "middle").attr("font-size", 8.5).attr("fill", "#333")
      .text(s.label);

    // legend
    const L = st.leg;
    const lx = p.x1 - L.dx - L.w, ly = s.top + L.dy;
    g.append("rect").attr("x", lx).attr("y", ly).attr("width", L.w).attr("height", L.h)
      .attr("fill", "#fff").attr("stroke", "#333").attr("stroke-width", 0.7);
    s.series.forEach((se, i) => {
      const ry = ly + L.h / 2 + (i - 0.5) * L.row;
      g.append("line").attr("x1", lx + 4).attr("x2", lx + 4 + L.line)
        .attr("y1", ry).attr("y2", ry)
        .attr("stroke", se.color).attr("stroke-width", st.lw + 0.2);
      g.append("text").attr("x", lx + L.line + 8).attr("y", ry + 3.3)
        .attr("font-size", 9.5).attr("fill", "#333")
        .text(se.name);
    });

    if (si === 2) {
      svg.append("text").attr("x", (p.x0 + p.x1) / 2).attr("y", p.timeY)
        .attr("text-anchor", "middle").attr("font-size", 9).attr("fill", "#333")
        .text("Time (s)");
    }
  });
});
</script>
</body>
</html>
